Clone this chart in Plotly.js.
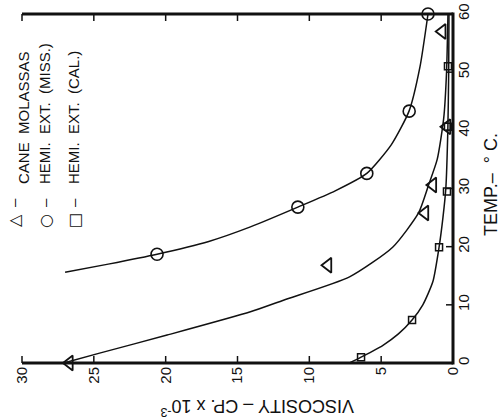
<!DOCTYPE html>
<html>
<head>
<meta charset="utf-8">
<script src="https://cdn.plot.ly/plotly-3.0.1.min.js"></script>
<style>html,body{margin:0;padding:0;background:#fff;overflow:hidden;}#chart{width:500px;height:420px;}</style>
</head>
<body>
<div id="chart"></div>
<script>
// ---- Data (viscosity in cP x 10^-3, temperature in deg C) ----
const caneTemp = [0, 16.8, 25.8, 30.6, 40.6, 57];
const caneVisc = [26.7, 8.7, 1.95, 1.4, 0.42, 0.75];
const missTemp = [18.7, 26.8, 32.6, 43.3, 60];
const missVisc = [20.6, 10.8, 6.0, 3.05, 1.74];
const calTemp = [1, 7.4, 19.9, 29.5, 40.6, 51];
const calVisc = [6.4, 2.85, 0.97, 0.42, 0.35, 0.35];

// fitted curves as drawn on the chart
const caneCurveTemp = [0, 1.7, 4.8, 8.8, 10.8, 14.8, 19.9, 25.8, 30.6, 35, 42, 50, 60];
const caneCurveVisc = [27.1, 24.6, 19.9, 14.1, 11.8, 7.2, 4.2, 2.4, 1.7, 1.1, 0.65, 0.45, 0.35];
const missCurveTemp = [15.6, 17.0, 18.7, 20.9, 23.4, 26.8, 29.6, 32.6, 37.5, 43.3, 50.9, 60];
const missCurveVisc = [27.0, 24.0, 20.6, 17.0, 14.1, 10.8, 8.2, 6.0, 4.3, 3.06, 2.3, 1.74];
const calCurveTemp = [0, 1, 3, 5, 7.4, 10, 14, 19.9, 25, 30, 40, 50, 60];
const calCurveVisc = [7.2, 6.4, 4.9, 3.8, 2.85, 2.1, 1.4, 0.97, 0.7, 0.5, 0.36, 0.3, 0.28];

const viscRange = [30, 0];
const tempRange = [0, 60];
const viscTicks = [0, 5, 10, 15, 20, 25, 30];
const tempTicks = [0, 10, 20, 30, 40, 50, 60];

const legendSymbols = ['\u25B3', '\u25CB', '\u25A1'];
const legendLabels = ['CANE  MOLASSAS', 'HEMI.  EXT.  (MISS.)', 'HEMI.  EXT.  (CAL.)'];
const xTitle = 'VISCOSITY \u2013 CP. x 10<sup>-3</sup>';
const yTitle = 'TEMP.\u2013  \u00B0 C.';

// ---- Geometry: the frame sits 10 px inside the plotting area ----
const ink = '#111111';
const W = 500, H = 420;
const FL = 22, FR = 453, FT = 14, FB = 363;     // frame edges in px
const PAD = 10;
const L = FL - PAD, R = W - FR - PAD, T = FT - PAD, B = H - FB - PAD;
const pw = W - L - R, ph = H - T - B;
const fw = FR - FL, fh = FB - FT;
const px = x => (x - L) / pw;
const py = y => (H - B - y) / ph;

const vMax = viscRange[0], vMin = viscRange[1], tMin = tempRange[0], tMax = tempRange[1];
const vPerPx = (vMax - vMin) / fw, tPerPx = (tMax - tMin) / fh;
const xRange = [vMax + PAD * vPerPx, vMin - PAD * vPerPx];
const yRange = [tMin - PAD * tPerPx, tMax + PAD * tPerPx];

const curve = (x, y) => ({x, y, mode: 'lines', line: {color: ink, width: 1.5, shape: 'spline', smoothing: 0.6}, showlegend: false});
const pts = (x, y, sym, size, w) => ({x, y, mode: 'markers', marker: {symbol: sym, size: size, color: ink, line: {color: ink, width: w}}, showlegend: false, cliponaxis: false});
const seg = (x, y, w) => ({x, y, mode: 'lines', line: {color: ink, width: w}, cliponaxis: false, showlegend: false});

const data = [];
// frame (bottom, right, top) and inward ticks
const tickLenV = 7 * vPerPx, tickLenT = 7 * tPerPx;
data.push(seg([vMax, vMin], [tMin, tMin], 3));
data.push(seg([vMin, vMin], [tMin - 1.5 * tPerPx, tMax + 1.5 * tPerPx], 3));
data.push(seg([vMin, vMax], [tMax, tMax], 3));
viscTicks.forEach(v => {
  data.push(seg([v, v], [tMin, tMin + tickLenT], 1.5));
  data.push(seg([v, v], [tMax, tMax - tickLenT], 1.5));
});
tempTicks.forEach(t => {
  data.push(seg([vMin, vMin + tickLenV], [t, t], 1.5));
});
data.push(
  curve(caneCurveVisc, caneCurveTemp),
  curve(missCurveVisc, missCurveTemp),
  curve(calCurveVisc, calCurveTemp),
  pts(caneVisc, caneTemp, 'triangle-left-open', 13, 1.8),
  pts(missVisc, missTemp, 'circle-open', 12, 1.6),
  pts(calVisc, calTemp, 'square-open', 7, 1.5)
);

const font = 'Liberation Sans, Arial, sans-serif';
const annotations = [];
const legX = [14, 45, 74];
const legTextX = [23, 45, 73];
const legTextCenter = [118, 114, 118];
legendLabels.forEach((lab, i) => {
  annotations.push({xref: 'paper', yref: 'paper', x: px(legX[i]), y: py(221), text: legendSymbols[i], textangle: -90, showarrow: false, xanchor: 'center', yanchor: 'middle', font: {family: 'DejaVu Sans', size: 16, color: ink}});
  annotations.push({xref: 'paper', yref: 'paper', x: px(legX[i]), y: py(203), text: '\u2013', textangle: -90, showarrow: false, xanchor: 'center', yanchor: 'middle', font: {family: font, size: 15, color: ink}});
  annotations.push({xref: 'paper', yref: 'paper', x: px(legTextX[i]), y: py(legTextCenter[i]), text: lab, textangle: -90, showarrow: false, xanchor: 'center', yanchor: 'middle', font: {family: font, size: 15, color: ink}});
});
annotations.push({xref: 'paper', yref: 'paper', x: px(491), y: py(184), text: yTitle, textangle: -90, showarrow: false, xanchor: 'center', yanchor: 'middle', font: {family: font, size: 18, color: ink}});
annotations.push({xref: 'paper', yref: 'paper', x: px(257), y: py(408), text: xTitle, textangle: 180, showarrow: false, xanchor: 'center', yanchor: 'middle', font: {family: font, size: 18, color: ink}});

const layout = {
  width: W, height: H,
  margin: {l: L, r: R, t: T, b: B, pad: 0},
  paper_bgcolor: 'white', plot_bgcolor: 'white',
  showlegend: false,
  xaxis: {
    range: xRange, tickvals: viscTicks, ticks: '', showline: false,
    anchor: 'free', position: py(FB),
    showgrid: false, zeroline: false, tickangle: -90,
    tickfont: {family: font, size: 15, color: ink}
  },
  yaxis: {
    range: yRange, side: 'right', tickvals: tempTicks, ticks: '', showline: false,
    anchor: 'free', position: px(FR),
    showgrid: false, zeroline: false, tickangle: -90,
    tickfont: {family: font, size: 15, color: ink}
  },
  annotations
};

Plotly.newPlot('chart', data, layout, {staticPlot: true, displayModeBar: false});
</script>
</body>
</html>
